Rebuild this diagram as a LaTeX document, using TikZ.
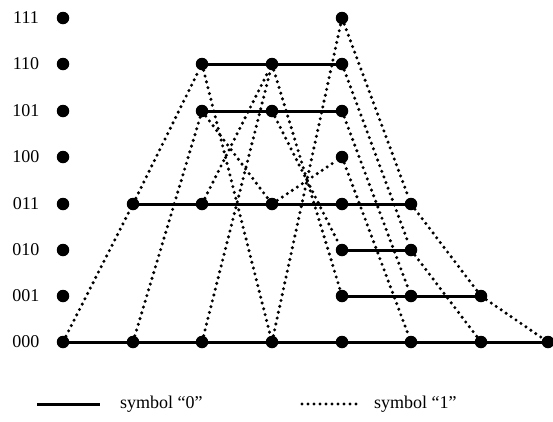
\documentclass[tikz,border=0pt]{standalone}
\usepackage{fontspec}
\setmainfont{Liberation Serif}
\begin{document}
\begin{tikzpicture}[x=1pt,y=-1pt,
  dot/.style={circle,fill=black,inner sep=0pt,minimum size=12.5pt},
  zero/.style={line width=3pt},
  one/.style={line width=3.4pt,dash pattern=on 0pt off 6pt,line cap=round},
  lbl/.style={font=\fontsize{18}{21}\selectfont,anchor=center,inner sep=0pt},
  leg/.style={font=\fontsize{18}{21}\selectfont,anchor=west,inner sep=0pt}]
\useasboundingbox (0,0) rectangle (553,421);

% left column: state labels and dots (t = 0)
\foreach \s/\y in {111/18,110/64,101/111,100/157,011/204,010/250,001/296,000/342}{
  \node[dot] (c0-\s) at (63,\y) {};
  \node[lbl] (lab-\s) at (26,\y) {\s};
}

% t = 1
\node[dot] (n1-011) at (133,204) {};
\node[dot] (n1-000) at (133,342) {};
% t = 2
\node[dot] (n2-110) at (202,64) {};
\node[dot] (n2-101) at (202,111) {};
\node[dot] (n2-011) at (202,204) {};
\node[dot] (n2-000) at (202,342) {};
% t = 3
\node[dot] (n3-110) at (272,64) {};
\node[dot] (n3-101) at (272,111) {};
\node[dot] (n3-011) at (272,204) {};
\node[dot] (n3-000) at (272,342) {};
% t = 4
\node[dot] (n4-111) at (342,18) {};
\node[dot] (n4-110) at (342,64) {};
\node[dot] (n4-101) at (342,111) {};
\node[dot] (n4-100) at (342,157) {};
\node[dot] (n4-011) at (342,204) {};
\node[dot] (n4-010) at (342,250) {};
\node[dot] (n4-001) at (342,296) {};
\node[dot] (n4-000) at (342,342) {};
% t = 5
\node[dot] (n5-011) at (411,204) {};
\node[dot] (n5-010) at (411,250) {};
\node[dot] (n5-001) at (411,296) {};
\node[dot] (n5-000) at (411,342) {};
% t = 6
\node[dot] (n6-001) at (481,296) {};
\node[dot] (n6-000) at (481,342) {};
% t = 7
\node[dot] (n7-000) at (548,342) {};

% symbol "0" branches
\draw[zero] (c0-000) -- (n1-000) -- (n2-000) -- (n3-000) -- (n4-000) -- (n5-000) -- (n6-000) -- (n7-000);
\draw[zero] (n1-011) -- (n2-011) -- (n3-011) -- (n4-011) -- (n5-011);
\draw[zero] (n2-110) -- (n3-110) -- (n4-110);
\draw[zero] (n2-101) -- (n3-101) -- (n4-101);
\draw[zero] (n4-010) -- (n5-010);
\draw[zero] (n4-001) -- (n5-001) -- (n6-001);

% symbol "1" branches
\draw[one] (c0-000) -- (n1-011);
\draw[one] (n1-000) -- (n2-101);
\draw[one] (n1-011) -- (n2-110);
\draw[one] (n2-110) -- (n3-000);
\draw[one] (n2-000) -- (n3-110);
\draw[one] (n2-101) -- (n3-011);
\draw[one] (n2-011) -- (n3-110);
\draw[one] (n3-000) -- (n4-111);
\draw[one] (n3-110) -- (n4-001);
\draw[one] (n3-101) -- (n4-010);
\draw[one] (n3-011) -- (n4-100);
\draw[one] (n4-111) -- (n5-011);
\draw[one] (n4-110) -- (n5-010);
\draw[one] (n4-101) -- (n5-001);
\draw[one] (n4-100) -- (n5-000);
\draw[one] (n5-011) -- (n6-001);
\draw[one] (n5-010) -- (n6-000);
\draw[one] (n6-001) -- (n7-000);

% legend
\coordinate (z1) at (37,404);
\coordinate (z2) at (100,404);
\draw[zero] (z1) -- (z2);
\node[leg] (t0) at (120,404) {symbol “0”};
\coordinate (o1) at (302,404);
\coordinate (o2) at (356,404);
\draw[one] (o1) -- (o2);
\node[leg] (t1) at (374,404) {symbol “1”};
\end{tikzpicture}
\end{document}
